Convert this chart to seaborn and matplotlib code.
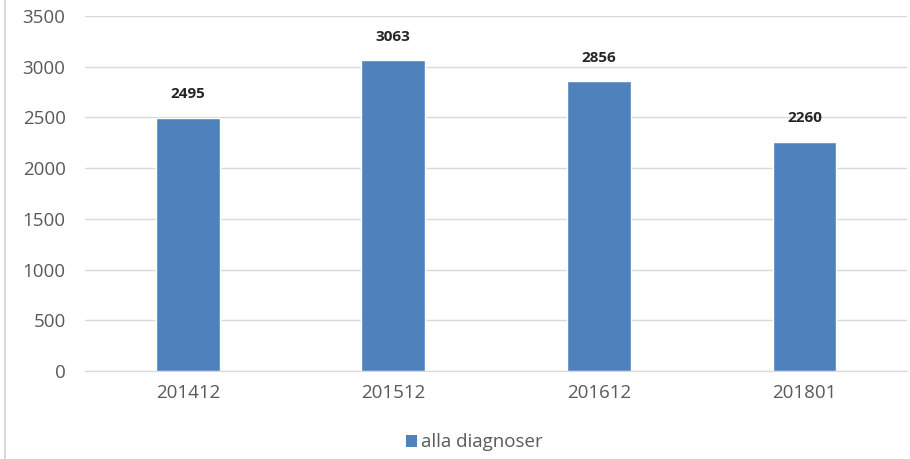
import pandas as pd
import seaborn as sns
import matplotlib.pyplot as plt
from matplotlib.lines import Line2D
from matplotlib.patches import Patch

# Data
periods = ['201412', '201512', '201612', '201801']
counts = [2495, 3063, 2856, 2260]
series_name = 'alla diagnoser'

df = pd.DataFrame({'period': periods, 'count': counts})

sns.set_style('white')
plt.rcParams['font.family'] = ['Open Sans', 'DejaVu Sans']

fig = plt.figure(figsize=(9.1, 4.59), dpi=100)
ax = fig.add_axes([0.0934, 0.1917, 0.9036, 0.7733])

bar_color = '#4F81BD'
sns.barplot(data=df, x='period', y='count', color=bar_color, width=0.31,
            saturation=1, ax=ax, zorder=3)

# Value labels above bars
for i, value in enumerate(counts):
    ax.text(i, value + 165, f'{value}', ha='center', va='bottom',
            fontsize=11, fontweight='bold', color='#262626')

ax.set_ylim(0, 3500)
ax.set_yticks(range(0, 3501, 500))
ax.set_xlim(-0.5, 3.5)
ax.yaxis.grid(True, color='#D9D9D9', linewidth=1, zorder=0)
ax.set_axisbelow(True)
for side in ['top', 'right', 'left']:
    ax.spines[side].set_visible(False)
ax.spines['bottom'].set_color('#D9D9D9')
ax.tick_params(axis='both', length=0, labelsize=13.5, colors='#595959')
ax.tick_params(axis='y', pad=14)
ax.tick_params(axis='x', pad=9)
ax.set_xlabel('')
ax.set_ylabel('')

# Legend at bottom
handle = Patch(facecolor=bar_color, edgecolor='none')
fig.legend([handle], [series_name], loc='center', bbox_to_anchor=(0.521, 0.036),
           frameon=False, fontsize=13.5, handlelength=0.6, handleheight=0.6,
           handletextpad=0.2, labelcolor='#595959')

# Chart border on the left
fig.add_artist(Line2D([0.005, 0.005], [0, 1], color='#D9D9D9', linewidth=1.5))

fig.savefig('out.png', dpi=100)
